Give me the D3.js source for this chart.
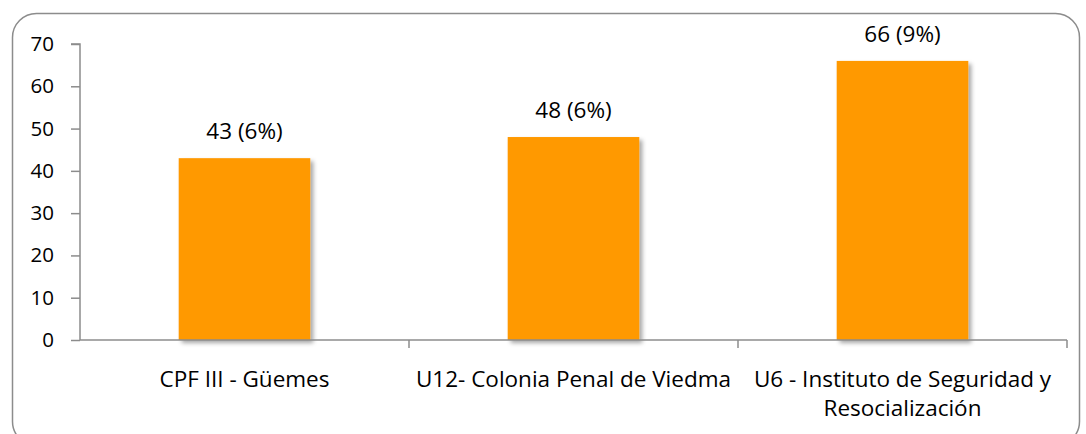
<!DOCTYPE html>
<html><head><meta charset="utf-8">
<script src="https://cdn.jsdelivr.net/npm/d3@7"></script>
<style>body{margin:0;background:#fff}svg{display:block}</style>
</head><body>
<svg id="c" width="1086" height="434"></svg>
<script>
const categories = ["CPF III - Güemes", "U12- Colonia Penal de Viedma", "U6 - Instituto de Seguridad y Resocialización"];
const values = [43, 48, 66];
const percents = ["6%", "6%", "9%"];
const yTicks = [0, 10, 20, 30, 40, 50, 60, 70];

const svg = d3.select("#c");
const FONT = "'Open Sans', Lato, sans-serif";
const FS = 22.5, FS_TICK = 20.5;
const W = 1086, H = 434;
const m = {left: 80, right: 19, top: 44, bottom: 94};

svg.append("rect").attr("x", 12.5).attr("y", 13.5).attr("width", 1067).attr("height", 432)
  .attr("rx", 24).attr("fill", "#fff").attr("stroke", "#8c8c8c").attr("stroke-width", 1.5);

const defs = svg.append("defs");
const f = defs.append("filter").attr("id", "sh").attr("x", "-10%").attr("y", "-10%").attr("width", "130%").attr("height", "130%");
f.append("feDropShadow").attr("dx", 3).attr("dy", 3).attr("stdDeviation", 2).attr("flood-color", "#000").attr("flood-opacity", 0.35);

const x = d3.scaleBand().domain(categories).range([m.left, W - m.right]).paddingInner(0.6).paddingOuter(0.3);
const y = d3.scaleLinear().domain([0, 70]).range([H - m.bottom, m.top]);

// bars
svg.append("g").selectAll("rect").data(values).join("rect")
  .attr("x", (d, i) => x(categories[i]))
  .attr("y", d => y(d))
  .attr("width", x.bandwidth())
  .attr("height", d => y(0) - y(d))
  .attr("fill", "#ff9900")
  .attr("filter", "url(#sh)");

// y axis
const ya = svg.append("g").attr("transform", `translate(${m.left},0)`)
  .call(d3.axisLeft(y).tickValues(yTicks).tickSize(9).tickPadding(17));
ya.select(".domain").attr("stroke", "#8c8c8c").attr("stroke-width", 1.5).attr("d", `M-9,${y(70)}H0V${y(0)}`);
ya.selectAll(".tick line").attr("stroke", "#8c8c8c").attr("stroke-width", 1.5);
ya.selectAll(".tick text").attr("font-family", FONT).attr("font-size", FS_TICK).attr("fill", "#000");

// x axis (ticks at band boundaries)
const xa = svg.append("g").attr("transform", `translate(0,${y(0)})`);
xa.append("path").attr("d", `M${m.left},0H${W - m.right}`).attr("stroke", "#8c8c8c").attr("stroke-width", 1.5).attr("fill", "none");
const step = x.step();
const bounds = categories.map((c, i) => x(c) - x.paddingInner() * step / 2 + step);
xa.selectAll("line.b").data(bounds).join("line").attr("class", "b")
  .attr("x1", d => d).attr("x2", d => d).attr("y1", 0).attr("y2", 8)
  .attr("stroke", "#8c8c8c").attr("stroke-width", 1.5);

// x labels
const lines = [["CPF III - Güemes"], ["U12- Colonia Penal de Viedma"], ["U6 - Instituto de Seguridad y", "Resocialización"]];
svg.append("g").selectAll("text").data(categories).join("text")
  .attr("x", d => x(d) + x.bandwidth() / 2)
  .attr("y", y(0) + 47)
  .attr("text-anchor", "middle").attr("font-family", FONT).attr("font-size", FS).attr("fill", "#000")
  .each(function(d, i) {
    d3.select(this).selectAll("tspan").data(lines[i]).join("tspan")
      .attr("x", x(d) + x.bandwidth() / 2)
      .attr("dy", (t, j) => j === 0 ? 0 : 29)
      .text(t => t);
  });

// value labels
svg.append("g").selectAll("text").data(values).join("text")
  .attr("x", (d, i) => x(categories[i]) + x.bandwidth() / 2)
  .attr("y", d => y(d) - 19)
  .attr("text-anchor", "middle").attr("font-family", FONT).attr("font-size", FS).attr("fill", "#000")
  .text((d, i) => `${d} (${percents[i]})`);
</script>
</body></html>
